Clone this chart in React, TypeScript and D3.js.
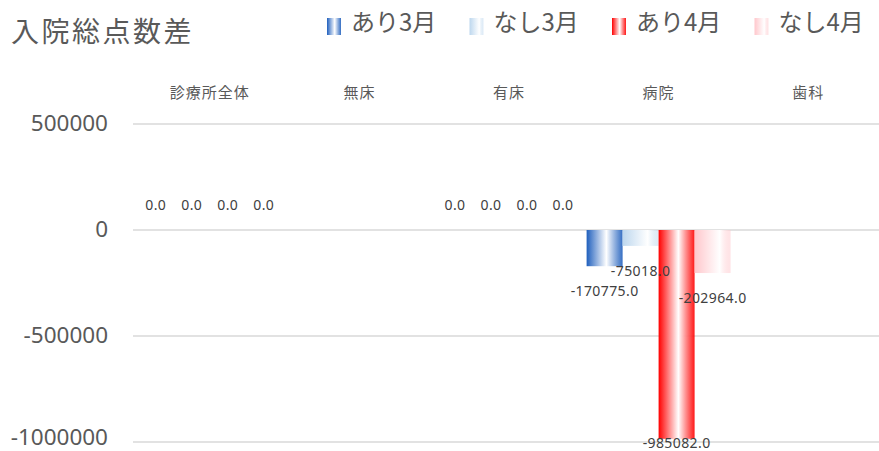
import React from "react";
import * as d3 from "d3";

const categories = ["診療所全体", "無床", "有床", "病院", "歯科"];
const seriesNames = ["あり3月", "なし3月", "あり4月", "なし4月"];
const seriesColors = ["#1f5fbd", "#bdd7ee", "#ff0000", "#ffc7cc"];
// values per series, aligned with categories (null = no data)
const ari3 = [0, null, 0, -170775, null];
const nashi3 = [0, null, 0, -75018, null];
const ari4 = [0, null, 0, -985082, null];
const nashi4 = [0, null, 0, -202964, null];
const seriesValues = [ari3, nashi3, ari4, nashi4];
const yTicks = [500000, 0, -500000, -1000000];
const title = "入院総点数差";

const W = 879;
const H = 451;
const FONT = "'Noto Sans CJK JP', 'Noto Sans', sans-serif";
const NUMFONT = "'Noto Sans', 'Noto Sans CJK JP', sans-serif";

export default function App() {
  const x0 = d3.scaleBand<string>().domain(categories).range([135, 883]).padding(0);
  const x1 = d3
    .scaleBand<string>()
    .domain(seriesNames)
    .range([0, x0.bandwidth()])
    .paddingInner(0)
    .paddingOuter(0.078);
  const y = d3.scaleLinear().domain([-1000000, 500000]).range([442, 124]);
  const y0 = y(0);
  const plotBottom = y(-1000000);

  const items: { key: string; si: number; v: number; bx: number; bw: number }[] = [];
  seriesNames.forEach((s, si) =>
    categories.forEach((c, ci) => {
      const v = seriesValues[si][ci];
      if (v === null || v === undefined) return;
      items.push({
        key: s + c,
        si,
        v,
        bx: (x0(c) as number) + (x1(s) as number),
        bw: x1.bandwidth(),
      });
    })
  );

  return (
    <div style={{ position: "fixed", left: 0, top: 0 }}>
      <svg width={W} height={H} style={{ display: "block", background: "#fff" }}>
        <defs>
          {seriesColors.map((c, i) => (
            <linearGradient key={i} id={`g${i}`} x1="0" x2="1" y1="0" y2="0">
              <stop offset="0" stopColor={c} />
              <stop offset={i % 2 === 0 ? "0.55" : "0.7"} stopColor="#ffffff" />
              <stop offset="1" stopColor={c} stopOpacity={i % 2 === 0 ? 0.9 : 0.5} />
            </linearGradient>
          ))}
        </defs>
        <text x={11} y={42} fontFamily={FONT} fontSize={28} letterSpacing={2.5} fill="#595959">
          {title}
        </text>
        {seriesNames.map((s, i) => {
          const lx = 327 + i * 142.5;
          return (
            <g key={s}>
              <rect x={lx} y={18} width={14} height={17} fill={`url(#g${i})`} />
              <text x={lx + 24} y={31} fontFamily={FONT} fontSize={24} fill="#595959">
                {s}
              </text>
            </g>
          );
        })}
        {categories.map((c) => (
          <text
            key={c}
            x={(x0(c) as number) + x0.bandwidth() / 2}
            y={98}
            textAnchor="middle"
            fontFamily={FONT}
            fontSize={15}
            letterSpacing={1}
            fill="#595959"
          >
            {c}
          </text>
        ))}
        {yTicks.map((t) => (
          <g key={t}>
            <line x1={133} x2={W} y1={y(t)} y2={y(t)} stroke="#d9d9d9" strokeWidth={1.5} />
            <text
              x={108}
              y={y(t)}
              dy={t === -1000000 ? "0.15em" : "0.3em"}
              textAnchor="end"
              fontFamily={NUMFONT}
              fontSize={22.5}
              fill="#595959"
            >
              {t}
            </text>
          </g>
        ))}
        {items.map((d) => {
          const yv = y(d.v);
          const top = Math.min(yv, y0);
          const h = Math.abs(yv - y0);
          return h > 0 ? (
            <rect key={d.key} x={d.bx} y={top} width={d.bw} height={h} fill={`url(#g${d.si})`} />
          ) : null;
        })}
        {items.map((d) => {
          const yv = y(d.v);
          const ly = d.v >= 0 ? y0 - 25 : Math.min(yv + 25, plotBottom + 1);
          return (
            <text
              key={d.key}
              x={d.bx + d.bw / 2}
              y={ly}
              dy="0.35em"
              textAnchor="middle"
              fontFamily={NUMFONT}
              fontSize={14}
              letterSpacing={0.4}
              fill="#404040"
            >
              {d.v.toFixed(1)}
            </text>
          );
        })}
      </svg>
    </div>
  );
}
